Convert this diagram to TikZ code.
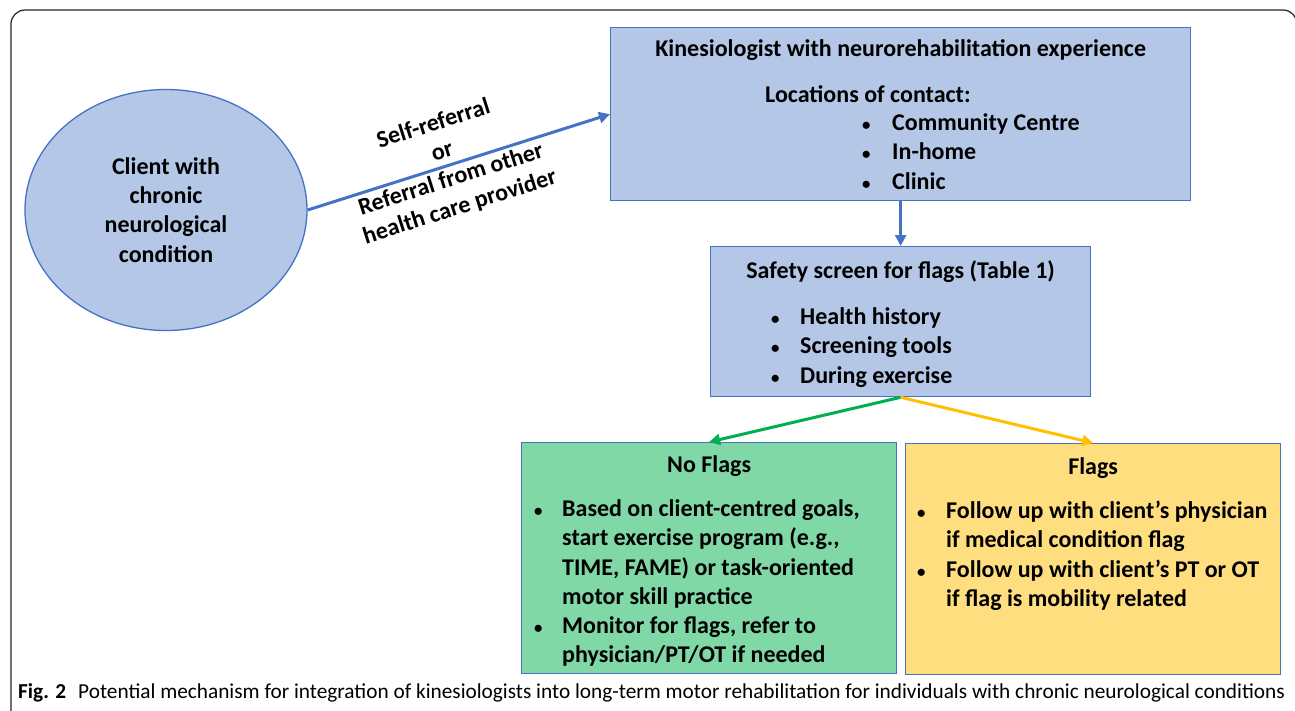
\documentclass[tikz,border=0pt]{standalone}
\usepackage{fontspec}
\setmainfont{Carlito}
\usetikzlibrary{arrows.meta,shapes.geometric,positioning}
\definecolor{kin-blue}{RGB}{180,199,231}
\definecolor{kin-line}{RGB}{68,114,196}
\definecolor{kin-green}{RGB}{128,216,166}
\definecolor{kin-yellow}{RGB}{255,222,128}
\definecolor{arrow-green}{RGB}{0,176,80}
\definecolor{arrow-yellow}{RGB}{255,192,0}
\definecolor{frame-grey}{RGB}{35,35,35}
\newcommand{\bul}[1][28pt]{\makebox[#1][l]{\scalebox{0.7}{\textbullet}}}

\begin{document}
\begin{tikzpicture}[x=1pt, y=-1pt,
    box/.style={draw=kin-line, line width=1.3pt, inner sep=0pt, anchor=north west},
    txt/.style={inner sep=0pt, font=\fontsize{24}{29.2}\selectfont\bfseries},
    list/.style={txt, anchor=north west, align=left},
    flow/.style={line width=3pt, -{Triangle[length=11pt,width=11pt]}}]
    \useasboundingbox (0,0) rectangle (1295,710);
    % Frame
    \draw[frame-grey, line width=1.2pt, rounded corners=14pt] (11,720) -- (11,10) -- (1297,10) -- (1297,720);

    % Client
    \node[ellipse, draw=kin-line, fill=kin-blue, line width=1.3pt, minimum width=282, minimum height=241, txt, align=center] (client) at (166,210) {Client with\\chronic\\neurological\\condition};

    % Kinesiologist
    \node[box, fill=kin-blue, minimum width=580, minimum height=173] (kin) at (610,27) {};
    \node[txt, below=12pt of kin.north] (kintitle) {Kinesiologist with neurorehabilitation experience};
    \node[txt, anchor=west] (contact) at (765,94) {Locations of contact:};
    \node[list] (places) at (862,110) {\strut\bul[30pt]Community Centre\\\strut\bul[30pt]In-home\\\strut\bul[30pt]Clinic};

    % Safety screen
    \node[box, fill=kin-blue, minimum width=380, minimum height=150] (screen) at (710,246) {};
    \node[txt, below=14.5pt of screen.north] (screentitle) {Safety screen for flags (Table 1)};
    \node[list] (checks) at (771,304) {\strut\bul[29pt]Health history\\\strut\bul[29pt]Screening tools\\\strut\bul[29pt]During exercise};

    % No flags
    \node[box, fill=kin-green, minimum width=375, minimum height=231] (noflags) at (521,442) {};
    \node[txt, below=13.5pt of noflags.north] (noflagstitle) {No Flags};
    \node[list] (noflagslist) at (534,496) {\strut\bul Based on client-centred goals,\\\strut\hspace*{28pt}start exercise program (e.g.,\\\strut\hspace*{28pt}TIME, FAME) or task-oriented\\\strut\hspace*{28pt}motor skill practice\\\strut\bul Monitor for flags, refer to\\\strut\hspace*{28pt}physician/PT/OT if needed};

    % Flags
    \node[box, fill=kin-yellow, minimum width=375, minimum height=231] (flags) at (905,443) {};
    \node[txt, below=14.5pt of flags.north] (flagstitle) {Flags};
    \node[list] (flagslist) at (917,498) {\strut\bul[29pt]Follow up with client’s physician\\\strut\hspace*{29pt}if medical condition flag\\\strut\bul[29pt]Follow up with client’s PT or OT\\\strut\hspace*{29pt}if flag is mobility related};

    % Connections
    \draw[flow, kin-line] (client.east) -- node[txt, sloped, pos=0.46, align=center, font=\fontsize{24}{29}\selectfont\bfseries, text=black] (referral) {Self-referral\\or\\Referral from other\\health care provider} (kin.west);
    \draw[flow, kin-line, line width=2.5pt] (kin.south) -- (screen.north);
    \draw[flow, arrow-green] (screen.south) -- (noflags.north);
    \draw[flow, arrow-yellow] (screen.south) -- (flags.north);

    % Caption
    \node[anchor=west, inner sep=0pt, font=\fontsize{21.3}{23}\selectfont] (caption) at (18,693) {\textbf{Fig. 2}\hspace{12pt}Potential mechanism for integration of kinesiologists into long-term motor rehabilitation for individuals with chronic neurological conditions};
\end{tikzpicture}
\end{document}
